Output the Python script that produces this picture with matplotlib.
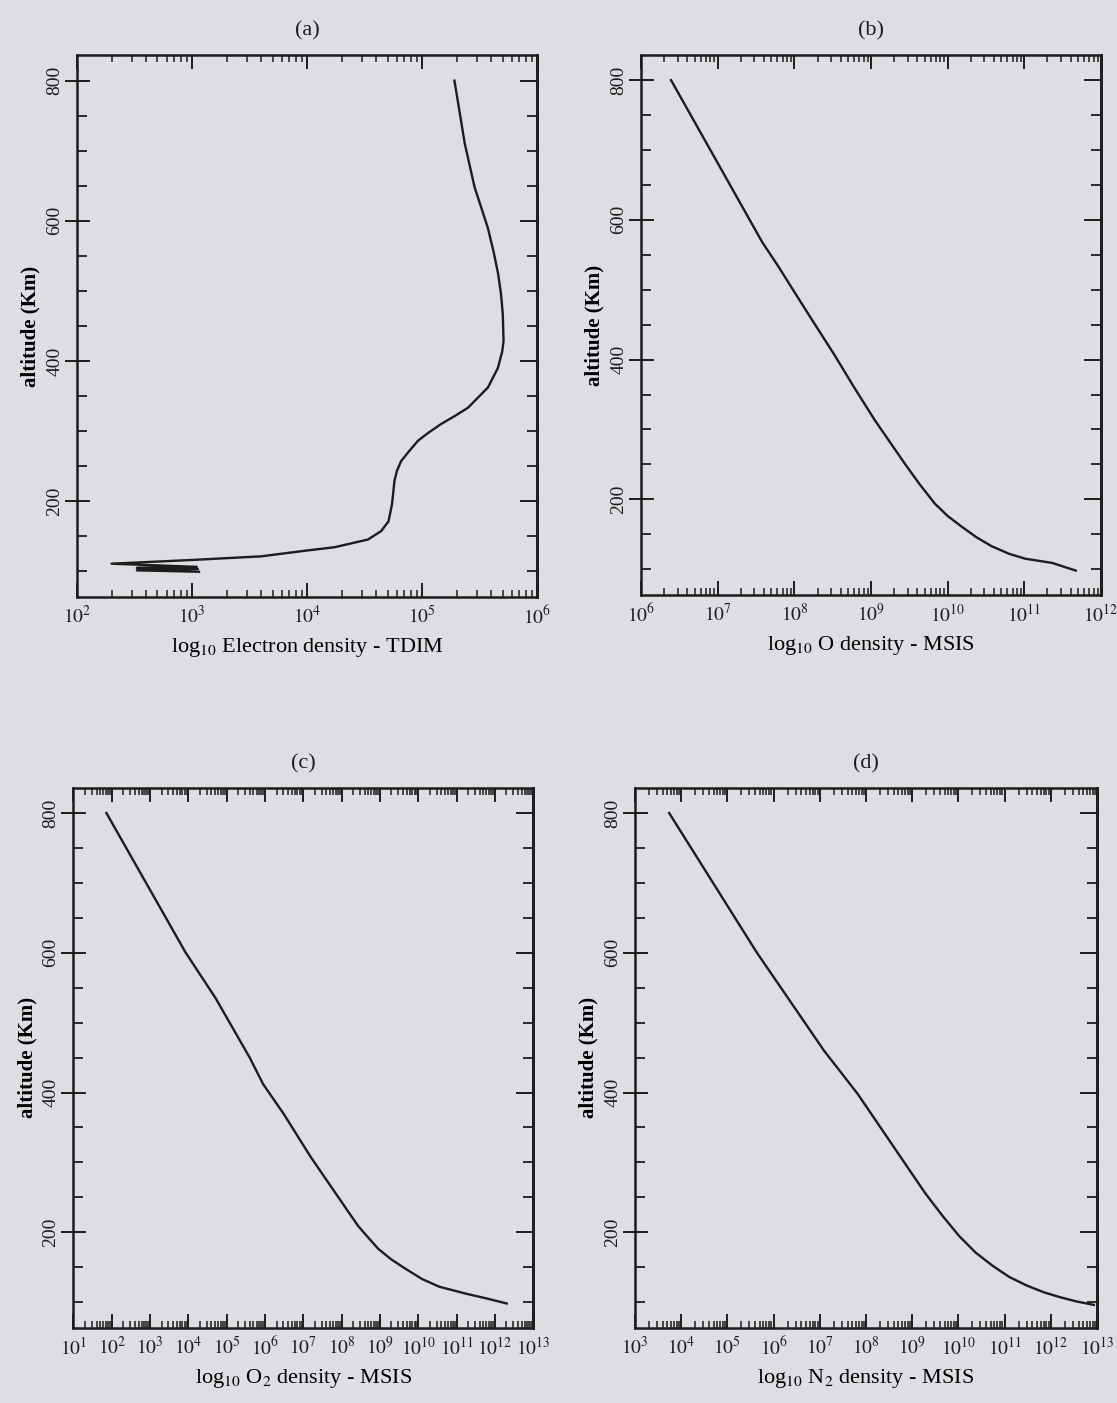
import matplotlib
matplotlib.use("Agg")
import numpy as np
import matplotlib.pyplot as plt
from matplotlib.ticker import FixedLocator, MultipleLocator, LogLocator, NullFormatter

# (a) electron density - TDIM  (log10 values, altitude in km)
alt_a = [800, 710, 648, 590, 556, 524, 495, 467, 429, 414, 390, 362, 333, 321, 310,
         297, 286, 270, 257, 243, 229, 195, 171, 157, 145, 134, 129, 121, 116,
         110.5, 106, 104.5, 103, 101, 99]
log_ne = [5.28, 5.37, 5.455, 5.57, 5.62, 5.66, 5.685, 5.70, 5.707, 5.696, 5.658,
          5.571, 5.397, 5.28, 5.165, 5.05, 4.963, 4.88, 4.817, 4.78, 4.759, 4.737,
          4.707, 4.643, 4.528, 4.237, 3.98, 3.6, 3.02, 2.30, 3.04, 2.52, 3.05, 2.52, 3.06]

# (b) O density - MSIS
alt_b = [800, 568, 535, 474, 407, 360, 313, 251, 222, 194, 176, 161, 146, 133,
         122, 115, 109, 98]
log_o = [6.39, 7.58, 7.78, 8.13, 8.52, 8.78, 9.05, 9.44, 9.63, 9.83, 10.0, 10.18,
         10.37, 10.57, 10.8, 11.01, 11.36, 11.67]

# (c) O2 density - MSIS
alt_c = [800, 601, 535, 450, 412, 370, 308, 252, 209, 192, 176, 161, 148, 133,
         122, 112, 105, 98]
log_o2 = [1.86, 3.92, 4.71, 5.60, 5.95, 6.48, 7.19, 7.89, 8.43, 8.7, 8.96, 9.3,
          9.66, 10.1, 10.55, 11.25, 11.8, 12.31]

# (d) N2 density - MSIS
alt_d = [800, 601, 545, 460, 398, 327, 256, 224, 195, 171, 152, 136, 124, 114,
         107, 101, 96]
log_n2 = [3.74, 5.63, 6.21, 7.09, 7.82, 8.55, 9.28, 9.65, 10.01, 10.37, 10.74,
          11.1, 11.47, 11.85, 12.20, 12.55, 12.93]

titles = ["(a)", "(b)", "(c)", "(d)"]
xlabels = ["log$_{10}$ Electron density - TDIM", "log$_{10}$ O density - MSIS",
           "log$_{10}$ O$_2$ density - MSIS", "log$_{10}$ N$_2$ density - MSIS"]
xlims = [(2, 6), (6, 12), (1, 13), (3, 13)]
alt_ticks = [200, 400, 600, 800]

BG = "#dedee2"
INK = "#1c1c1c"

plt.rcParams["font.family"] = ["Liberation Serif", "DejaVu Serif"]
plt.rcParams["mathtext.fontset"] = "stix"
plt.rcParams["text.color"] = INK

fig = plt.figure(figsize=(11.17, 14.03), dpi=100, facecolor=BG)
rects = [[0.069, 0.5745, 0.412, 0.386],
         [0.574, 0.5759, 0.4117, 0.3849],
         [0.0658, 0.0535, 0.4115, 0.3849],
         [0.5685, 0.0535, 0.4136, 0.3849]]
curves = [(log_ne, alt_a), (log_o, alt_b), (log_o2, alt_c), (log_n2, alt_d)]

for i in range(4):
    ax = fig.add_axes(rects[i], facecolor=BG)
    lx, alt = curves[i]
    ax.plot(10 ** np.array(lx), alt, color=INK, lw=1.7, solid_joinstyle="round")
    ax.set_xscale("log")
    lo, hi = xlims[i]
    ax.set_xlim(10.0 ** lo, 10.0 ** hi)
    ax.set_ylim(63, 836)

    ax.xaxis.set_major_locator(FixedLocator([10.0 ** k for k in range(lo, hi + 1)]))
    ax.xaxis.set_minor_locator(LogLocator(base=10, subs=np.arange(2, 10), numticks=50))
    ax.xaxis.set_minor_formatter(NullFormatter())
    ax.set_xticklabels(["$10^{%d}$" % k for k in range(lo, hi + 1)], fontsize=14)
    ax.tick_params(axis="x", which="major", direction="in", length=10, width=1.4,
                   top=True, pad=6, colors=INK)
    ax.tick_params(axis="x", which="minor", direction="in", length=5, width=1.1,
                   top=True, colors=INK)

    ax.yaxis.set_major_locator(FixedLocator(alt_ticks))
    ax.yaxis.set_minor_locator(MultipleLocator(50))
    ax.set_yticklabels([str(v) for v in alt_ticks], rotation=90, va="center", fontsize=14)
    ax.tick_params(axis="y", which="major", direction="inout", length=18, width=1.4,
                   right=False, pad=1, colors=INK)
    ax.tick_params(axis="y", which="minor", direction="in", length=7, width=1.3,
                   right=False, colors=INK)

    sec = ax.secondary_yaxis("right")
    sec.set_yticks(alt_ticks)
    sec.yaxis.set_minor_locator(MultipleLocator(50))
    sec.tick_params(which="major", direction="in", length=12, width=1.4, labelright=False,
                    colors=INK)
    sec.tick_params(which="minor", direction="in", length=7, width=1.3, colors=INK)
    sec.spines["right"].set_linewidth(1.8)

    for s in ax.spines.values():
        s.set_linewidth(1.8)
        s.set_color(INK)

    ax.set_title(titles[i], fontsize=16, pad=14)
    ax.set_xlabel(xlabels[i], fontsize=16, labelpad=6)
    ax.set_ylabel("altitude (Km)", fontsize=15, fontweight="bold", labelpad=4)

fig.savefig("out.png", dpi=100, facecolor=BG)
